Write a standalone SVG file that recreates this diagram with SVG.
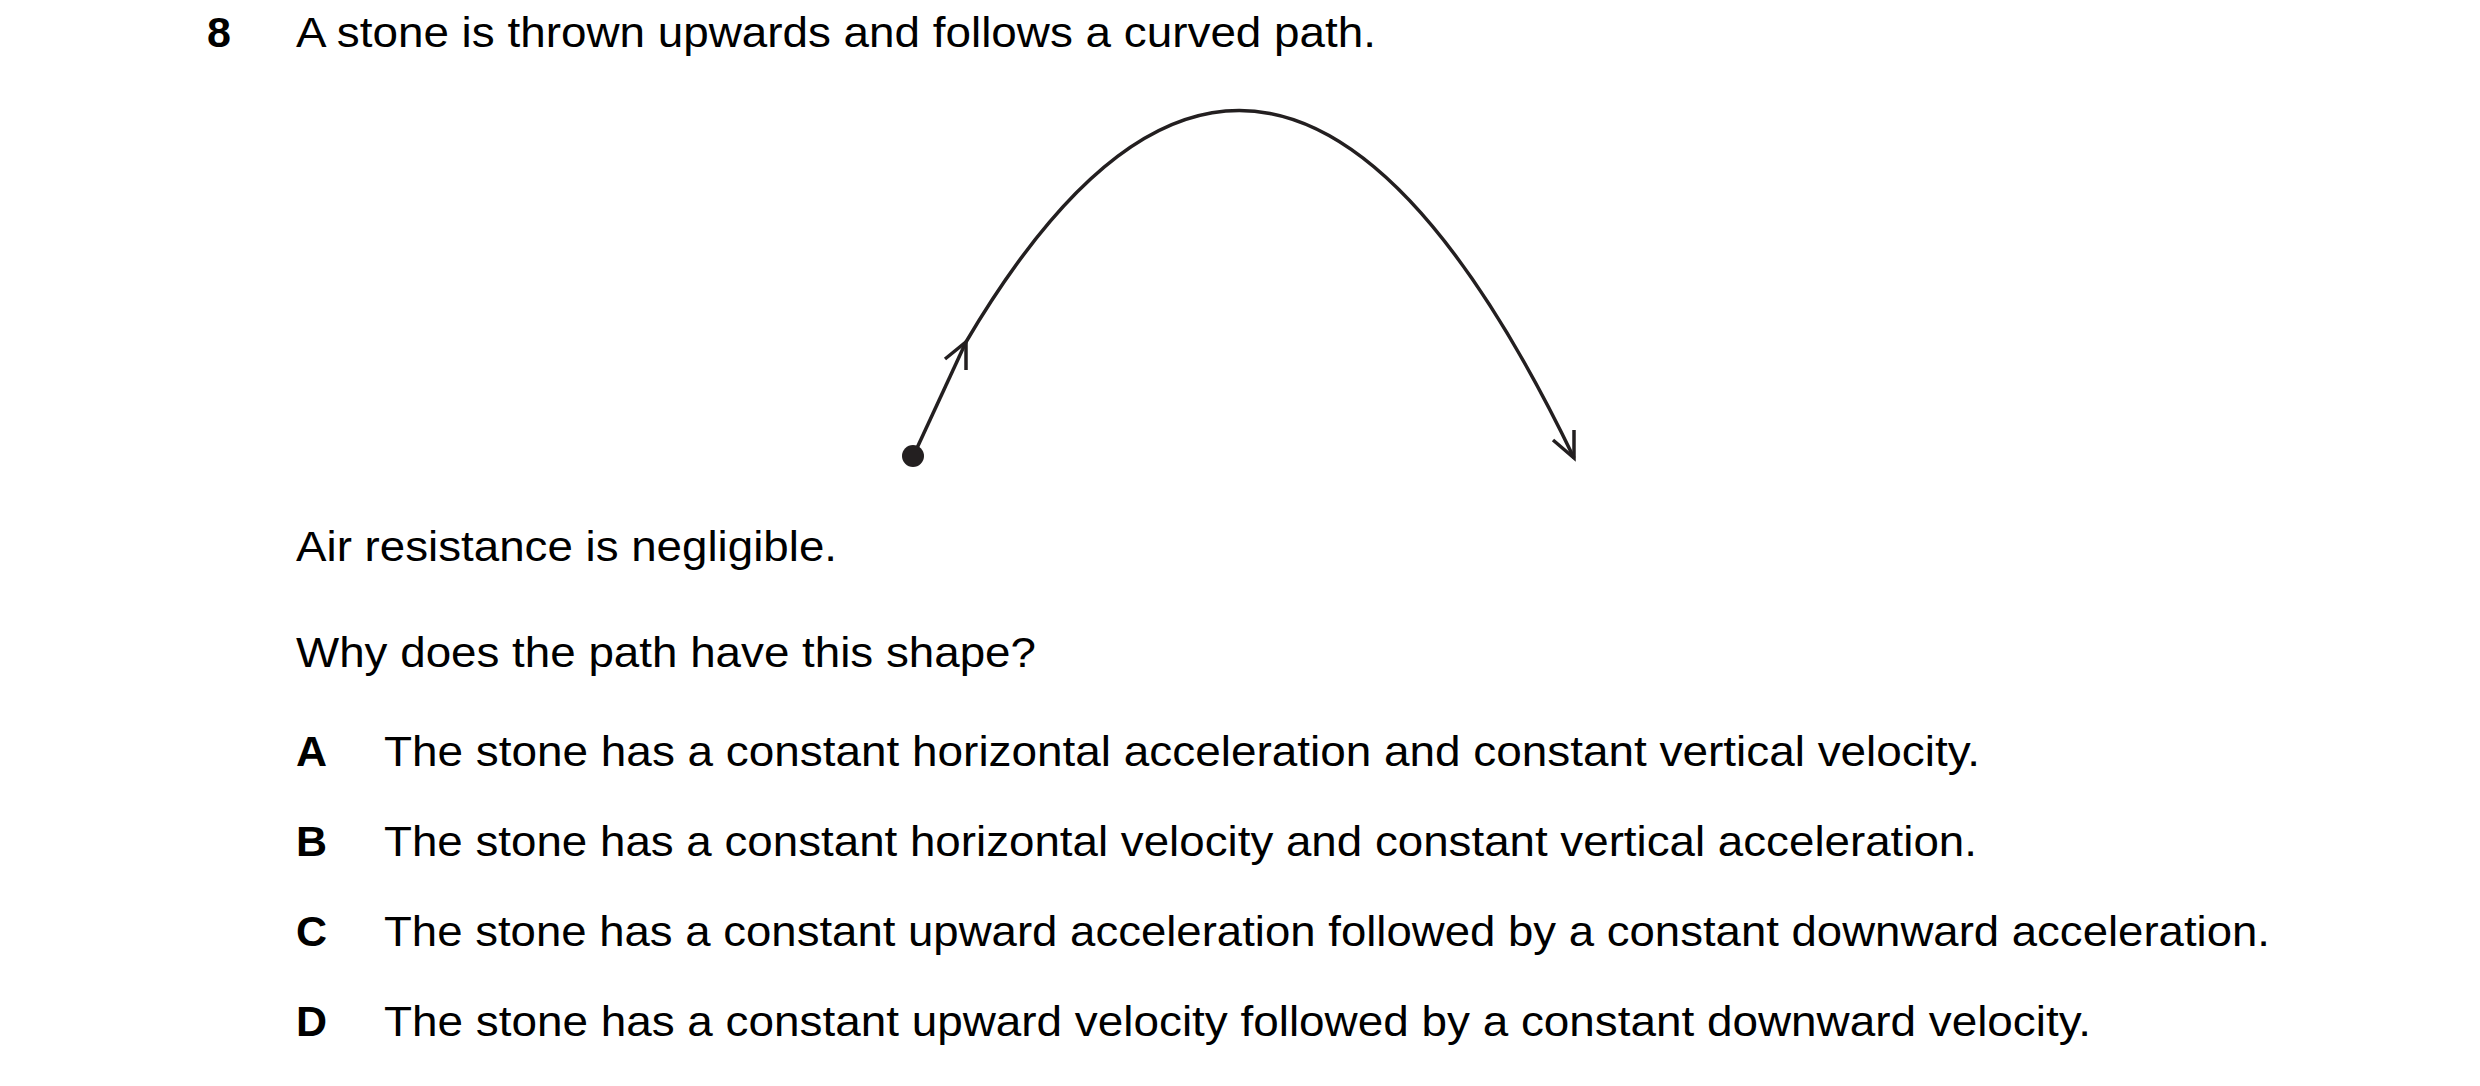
<svg xmlns="http://www.w3.org/2000/svg" width="2480" height="1086" viewBox="0 0 2480 1086">
<style>
text{font-family:"Liberation Sans",Arial,sans-serif;font-size:43px;fill:#000}
.b{font-weight:bold}
.ln{fill:none;stroke:#231f20;stroke-width:3.5}
</style>
<rect width="2480" height="1086" fill="#fff"/>
<g id="question">
<text class="b" x="207" y="47">8</text>
<text x="296" y="47" textLength="1080" lengthAdjust="spacingAndGlyphs">A stone is thrown upwards and follows a curved path.</text>
</g>
<g id="connectors">
<path class="ln" d="M917,448 L966,342"/>
<path class="ln" d="M966,342 Q1270,-173 1574,458"/>
<path class="ln" d="M945,359 L966,342 L966,370"/>
<path class="ln" d="M1553,440 L1574,458 L1574,430"/>
</g>
<g id="stone"><circle cx="913" cy="456" r="11" fill="#231f20"/></g>
<g id="text">
<text x="296" y="561" textLength="541" lengthAdjust="spacingAndGlyphs">Air resistance is negligible.</text>
<text x="296" y="667" textLength="740" lengthAdjust="spacingAndGlyphs">Why does the path have this shape?</text>
</g>
<g id="optA"><text class="b" x="296" y="766">A</text><text x="384" y="766" textLength="1596" lengthAdjust="spacingAndGlyphs">The stone has a constant horizontal acceleration and constant vertical velocity.</text></g>
<g id="optB"><text class="b" x="296" y="856">B</text><text x="384" y="856" textLength="1593" lengthAdjust="spacingAndGlyphs">The stone has a constant horizontal velocity and constant vertical acceleration.</text></g>
<g id="optC"><text class="b" x="296" y="946">C</text><text x="384" y="946" textLength="1886" lengthAdjust="spacingAndGlyphs">The stone has a constant upward acceleration followed by a constant downward acceleration.</text></g>
<g id="optD"><text class="b" x="296" y="1036">D</text><text x="384" y="1036" textLength="1707" lengthAdjust="spacingAndGlyphs">The stone has a constant upward velocity followed by a constant downward velocity.</text></g>
</svg>
